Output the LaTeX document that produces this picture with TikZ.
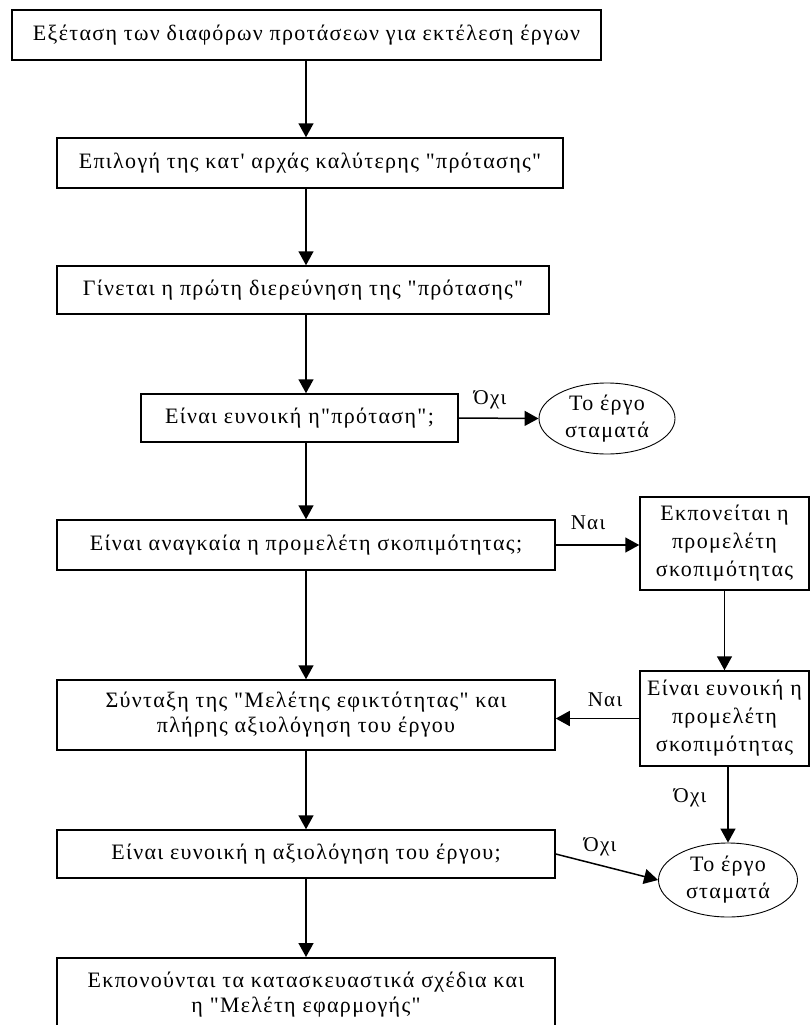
\documentclass[tikz,border=0pt]{standalone}
\usepackage{fontspec}
\setmainfont{Liberation Serif}[Ligatures=TeXOff, LetterSpace=6]
\usetikzlibrary{arrows.meta,shapes.geometric}
\begin{document}
\begin{tikzpicture}[x=1pt,y=-1pt,
  box/.style={draw, line width=1.5pt, inner sep=0pt, align=center,
    font=\fontsize{22}{25}\selectfont},
  sidebox/.style={box, font=\fontsize{22}{28}\selectfont},
  txt/.style={inner sep=0pt, align=center, font=\fontsize{22}{25}\selectfont},
  term/.style={draw, ellipse, line width=0.9pt, inner sep=0pt, align=center,
    font=\fontsize{22}{27}\selectfont},
  conn/.style={line width=1.5pt, -{Triangle[length=14pt,width=15pt]}},
  lbl/.style={inner sep=0pt, font=\fontsize{21}{22}\selectfont}]
\useasboundingbox (0,0) rectangle (811,1025);
\coordinate (spine) at (306,0);

\node[box, minimum width=589pt, minimum height=50pt] (b1) at (306.5,35)
  {Εξέταση των διαφόρων προτάσεων για εκτέλεση έργων};
\node[box, minimum width=506pt, minimum height=50pt] (b2) at (310,163)
  {Επιλογή της κατ' αρχάς καλύτερης "πρότασης"};
\node[box, minimum width=492pt, minimum height=48pt] (b3) at (303,290)
  {Γίνεται η πρώτη διερεύνηση της "πρότασης"};
\node[box, minimum width=317pt, minimum height=48pt] (b4) at (299.5,418)
  {Είναι ευνοική η"πρόταση";};
\node[term, minimum width=136pt, minimum height=71pt] (e1) at (607,418.5)
  {Το έργο\\σταματά};
\node[box, minimum width=498pt, minimum height=50pt] (b5) at (306,545)
  {Είναι αναγκαία η προμελέτη σκοπιμότητας;};
\node[sidebox, minimum width=169pt, minimum height=93pt] (A) at (724.5,543.5)
  {Εκπονείται η\\προμελέτη\\σκοπιμότητας};
\node[sidebox, minimum width=169pt, minimum height=95pt] (B) at (724.5,718.5)
  {Είναι ευνοική η\\προμελέτη\\σκοπιμότητας};
\node[box, minimum width=498pt, minimum height=70pt] (b6) at (306,715)
  {Σύνταξη της "Μελέτης εφικτότητας" και\\πλήρης αξιολόγηση του έργου};
\node[box, minimum width=498pt, minimum height=48pt] (b7) at (306,854)
  {Είναι ευνοική η αξιολόγηση του έργου;};
\node[term, minimum width=139pt, minimum height=74pt] (e2) at (728,880)
  {Το έργο\\σταματά};
\node[box, anchor=north, minimum width=498pt, minimum height=90pt] (b8) at (306,957) {};
\node[txt] (b8t) at (306,994.5)
  {Εκπονούνται τα κατασκευαστικά σχέδια και\\η "Μελέτη εφαρμογής"};

\draw[conn] (b1.south -| spine) -- (b2.north -| spine);
\draw[conn] (b2.south -| spine) -- (b3.north -| spine);
\draw[conn] (b3.south -| spine) -- (b4.north -| spine);
\draw[conn] (b4.east) -- (e1.west);
\draw[conn] (b4.south -| spine) -- (b5.north -| spine);
\draw[conn] (b5.east) -- (b5.east -| A.west);
\draw[conn] (b5.south -| spine) -- (b6.north -| spine);
\draw[conn] (A.south) -- (B.north);
\draw[conn] (B.west) -- (B.west -| b6.east);
\draw[conn] (b6.south -| spine) -- (b7.north -| spine);
\draw[conn] (b7.east) -- (e2.west);
\draw[conn] (e2.north |- B.south) -- (e2.north);
\draw[conn] (b7.south -| spine) -- (b8.north -| spine);

\node[lbl] (l1) at (490,400) {Όχι};
\node[lbl] (l2) at (588,523) {Ναι};
\node[lbl] (l3) at (605,700) {Ναι};
\node[lbl] (l4) at (690,798) {Όχι};
\node[lbl] (l5) at (600,847) {Όχι};
\end{tikzpicture}
\end{document}
